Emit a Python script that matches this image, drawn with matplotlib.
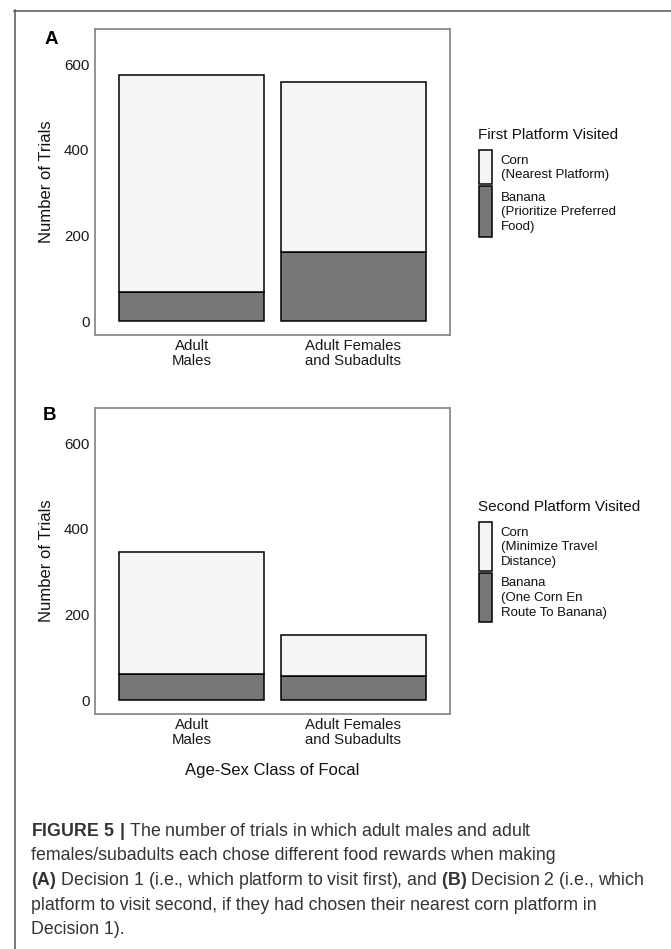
import matplotlib
matplotlib.use("Agg")
import matplotlib.pyplot as plt
from matplotlib.patches import Rectangle
from matplotlib.lines import Line2D

plt.rcParams['font.family'] = ['Liberation Sans', 'DejaVu Sans']
plt.rcParams['mathtext.fontset'] = 'custom'
plt.rcParams['mathtext.rm'] = 'Liberation Sans'
plt.rcParams['mathtext.bf'] = 'Liberation Sans:bold'

# ---- data ----
categories = ["Adult\nMales", "Adult Females\nand Subadults"]
a_banana = [68, 162]
a_corn = [506, 396]
b_banana = [61, 56]
b_corn = [284, 97]
yticks = [0, 200, 400, 600]
legend_a_title = "First Platform Visited"
legend_a_labels = [["Corn", "(Nearest Platform)"],
                   ["Banana", "(Prioritize Preferred", "Food)"]]
legend_b_title = "Second Platform Visited"
legend_b_labels = [["Corn", "(Minimize Travel", "Distance)"],
                   ["Banana", "(One Corn En", "Route To Banana)"]]
caption_lines = [
    r"$\mathbf{FIGURE\ 5\ |}$ The number of trials in which adult males and adult",
    "females/subadults each chose different food rewards when making",
    r"$\mathbf{(A)}$ Decision 1 (i.e., which platform to visit first), and $\mathbf{(B)}$ Decision 2 (i.e., which",
    "platform to visit second, if they had chosen their nearest corn platform in",
    "Decision 1).",
]

CORN = "#F5F5F5"
BANANA = "#777777"
W, H = 671, 949

fig = plt.figure(figsize=(W / 100, H / 100), dpi=100)


def fx(px):
    return px / W


def fy(py):
    return 1 - py / H


def panel(left, top, bottom, right, corn, banana, xlabel=None):
    ax = fig.add_axes([fx(left), fy(bottom), fx(right) - fx(left), fy(top) - fy(bottom)])
    x = [1, 2]
    ax.bar(x, banana, width=0.9, color=BANANA, edgecolor="black", linewidth=1.1, zorder=2)
    ax.bar(x, corn, bottom=banana, width=0.9, color=CORN, edgecolor="black", linewidth=1.1, zorder=2)
    ax.set_xlim(0.4, 2.6)
    ax.set_ylim(-32.5, 682.5)
    ax.set_yticks(yticks)
    ax.set_yticklabels([str(t) for t in yticks])
    ax.set_xticks(x)
    ax.set_xticklabels(categories, linespacing=1.05)
    ax.tick_params(axis='both', length=0, labelsize=10.8, labelcolor="#1a1a1a")
    ax.tick_params(axis='y', pad=4)
    ax.tick_params(axis='x', pad=3)
    for s in ax.spines.values():
        s.set_color("#8a8a8a")
        s.set_linewidth(1.3)
    ax.set_ylabel("Number of Trials", fontsize=12, labelpad=7, color="#111111")
    if xlabel:
        ax.set_xlabel(xlabel, fontsize=12, labelpad=12, color="#111111")
    return ax


axA = panel(95, 29, 335, 450, a_corn, a_banana)
axB = panel(95, 408, 714, 450, b_corn, b_banana, xlabel="Age-Sex Class of Focal")

fig.text(fx(45), fy(39), "A", fontsize=13.5, fontweight="bold", va="center", ha="left")
fig.text(fx(43), fy(415.5), "B", fontsize=13.5, fontweight="bold", va="center", ha="left")


def legend(title, title_y, labels, keys, line_ys):
    fig.text(fx(478), fy(title_y), title, fontsize=11, va="center", ha="left", color="#111111")
    colors = [CORN, BANANA]
    for (k0, k1), col, labs, ys in zip(keys, colors, labels, line_ys):
        fig.add_artist(Rectangle((fx(479), fy(k1)), fx(492.5) - fx(479), fy(k0) - fy(k1),
                                 transform=fig.transFigure, facecolor=col,
                                 edgecolor="black", linewidth=1.1))
        for lab, yy in zip(labs, ys):
            fig.text(fx(500.5), fy(yy), lab, fontsize=9.5, va="center", ha="left", color="#111111")


legend(legend_a_title, 135, legend_a_labels,
       [(149.5, 184), (186, 236.5)],
       [[160.7, 175.2], [197.7, 212.3, 226.8]])
legend(legend_b_title, 506.7, legend_b_labels,
       [(521.7, 570.7), (572.7, 621.7)],
       [[532.7, 547.3, 561.9], [583.3, 598.2, 612.8]])

# outer frame
fig.add_artist(Line2D([fx(14), fx(671)], [fy(10.5), fy(10.5)], transform=fig.transFigure,
                      color="#555555", linewidth=1.1))
fig.add_artist(Line2D([fx(14.5), fx(14.5)], [fy(10), fy(949)], transform=fig.transFigure,
                      color="#555555", linewidth=1.1))

# caption
cap_ys = [831, 855.5, 880.5, 905.5, 930]
for line, yy in zip(caption_lines, cap_ys):
    fig.text(fx(31), fy(yy), line, fontsize=12.8, va="center", ha="left", color="#333333")

fig.savefig("out.png", dpi=100)
